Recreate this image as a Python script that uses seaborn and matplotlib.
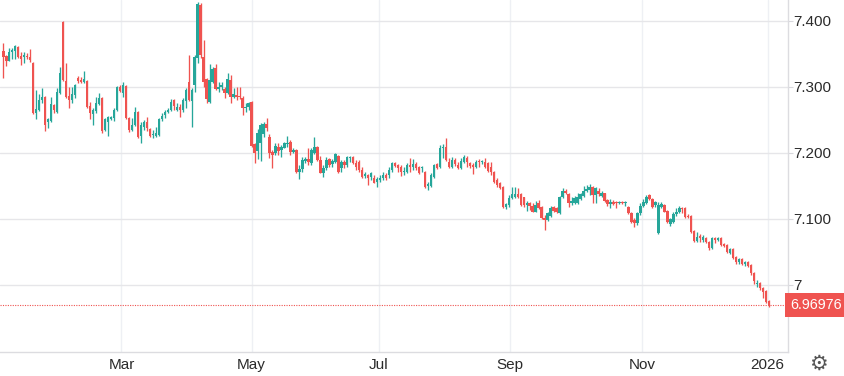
import numpy as np
import matplotlib
matplotlib.use("Agg")
import matplotlib.pyplot as plt
import matplotlib.transforms as mtransforms
import seaborn as sns
import pandas as pd

# ---------------- data (daily OHLC) ----------------
opens = [
    7.354, 7.347, 7.340, 7.353, 7.354, 7.360, 7.347, 7.345, 7.347, 7.345,
    7.337, 7.261, 7.265, 7.280, 7.285, 7.247, 7.248, 7.272, 7.262, 7.291,
    7.398, 7.309, 7.286, 7.280, 7.288, 7.314, 7.311, 7.308, 7.309, 7.271,
    7.259, 7.264, 7.274, 7.283, 7.235, 7.247, 7.251, 7.253, 7.265, 7.300,
    7.291, 7.302, 7.253, 7.235, 7.242, 7.262, 7.226, 7.239, 7.247, 7.236,
    7.227, 7.226, 7.227, 7.251, 7.258, 7.262, 7.265, 7.280, 7.265, 7.270,
    7.265, 7.279, 7.308, 7.279, 7.303, 7.344, 7.424, 7.345, 7.312, 7.277,
    7.308, 7.329, 7.297, 7.300, 7.297, 7.291, 7.311, 7.285, 7.288, 7.286,
    7.283, 7.268, 7.270, 7.277, 7.214, 7.203, 7.215, 7.229, 7.244, 7.224,
    7.202, 7.200, 7.209, 7.205, 7.208, 7.214, 7.217, 7.202, 7.205, 7.171,
    7.176, 7.188, 7.191, 7.185, 7.200, 7.209, 7.189, 7.170, 7.177, 7.191,
    7.183, 7.186, 7.196, 7.177, 7.186, 7.182, 7.192, 7.194, 7.185, 7.186,
    7.174, 7.165, 7.167, 7.164, 7.162, 7.156, 7.159, 7.162, 7.167, 7.167,
    7.174, 7.185, 7.182, 7.179, 7.171, 7.171, 7.182, 7.179, 7.183, 7.179,
    7.177, 7.171, 7.150, 7.150, 7.164, 7.183, 7.179, 7.208, 7.209, 7.186,
    7.179, 7.189, 7.182, 7.177, 7.186, 7.192, 7.185, 7.182, 7.179, 7.188,
    7.186, 7.186, 7.185, 7.179, 7.171, 7.159, 7.155, 7.149, 7.118, 7.121,
    7.132, 7.133, 7.138, 7.138, 7.133, 7.121, 7.124, 7.120, 7.111, 7.124,
    7.118, 7.102, 7.098, 7.105, 7.118, 7.117, 7.109, 7.133, 7.142, 7.138,
    7.124, 7.124, 7.124, 7.130, 7.135, 7.142, 7.144, 7.149, 7.136, 7.142,
    7.135, 7.139, 7.129, 7.123, 7.126, 7.126, 7.124, 7.126, 7.124, 7.118,
    7.109, 7.098, 7.094, 7.109, 7.120, 7.124, 7.136, 7.130, 7.121, 7.079,
    7.118, 7.121, 7.112, 7.093, 7.095, 7.108, 7.111, 7.117, 7.117, 7.105,
    7.105, 7.082, 7.067, 7.074, 7.068, 7.071, 7.065, 7.056, 7.071, 7.068,
    7.071, 7.062, 7.061, 7.048, 7.055, 7.042, 7.035, 7.039, 7.032, 7.035,
    7.030, 7.018, 7.002, 7.003, 6.995, 6.991, 6.976,
]
highs = [
    7.367, 7.348, 7.359, 7.359, 7.363, 7.362, 7.353, 7.353, 7.351, 7.357,
    7.338, 7.295, 7.289, 7.299, 7.286, 7.253, 7.285, 7.274, 7.299, 7.330,
    7.400, 7.337, 7.300, 7.300, 7.304, 7.317, 7.315, 7.324, 7.311, 7.277,
    7.268, 7.285, 7.291, 7.285, 7.253, 7.256, 7.256, 7.268, 7.302, 7.303,
    7.308, 7.303, 7.255, 7.253, 7.270, 7.264, 7.247, 7.250, 7.255, 7.238,
    7.235, 7.239, 7.253, 7.261, 7.265, 7.268, 7.282, 7.282, 7.276, 7.274,
    7.283, 7.299, 7.349, 7.299, 7.349, 7.429, 7.427, 7.371, 7.314, 7.335,
    7.330, 7.335, 7.308, 7.308, 7.300, 7.321, 7.318, 7.299, 7.300, 7.300,
    7.286, 7.276, 7.277, 7.279, 7.215, 7.236, 7.245, 7.247, 7.253, 7.229,
    7.205, 7.215, 7.215, 7.212, 7.217, 7.226, 7.220, 7.208, 7.206, 7.182,
    7.194, 7.194, 7.208, 7.208, 7.224, 7.210, 7.196, 7.182, 7.194, 7.192,
    7.191, 7.200, 7.197, 7.189, 7.189, 7.196, 7.196, 7.195, 7.189, 7.189,
    7.179, 7.171, 7.168, 7.171, 7.167, 7.164, 7.167, 7.171, 7.170, 7.179,
    7.186, 7.187, 7.183, 7.182, 7.179, 7.185, 7.192, 7.191, 7.186, 7.180,
    7.180, 7.172, 7.156, 7.170, 7.183, 7.185, 7.212, 7.214, 7.223, 7.192,
    7.194, 7.192, 7.186, 7.192, 7.197, 7.196, 7.186, 7.185, 7.189, 7.191,
    7.189, 7.192, 7.186, 7.186, 7.173, 7.162, 7.156, 7.150, 7.124, 7.136,
    7.148, 7.148, 7.147, 7.139, 7.134, 7.127, 7.126, 7.124, 7.127, 7.129,
    7.119, 7.106, 7.110, 7.120, 7.120, 7.118, 7.135, 7.147, 7.145, 7.139,
    7.133, 7.135, 7.139, 7.139, 7.150, 7.152, 7.153, 7.150, 7.149, 7.147,
    7.142, 7.140, 7.130, 7.130, 7.129, 7.127, 7.127, 7.127, 7.127, 7.119,
    7.110, 7.102, 7.111, 7.124, 7.130, 7.136, 7.138, 7.132, 7.127, 7.126,
    7.126, 7.123, 7.114, 7.102, 7.111, 7.117, 7.120, 7.118, 7.118, 7.108,
    7.106, 7.083, 7.080, 7.077, 7.076, 7.073, 7.067, 7.073, 7.073, 7.073,
    7.072, 7.064, 7.062, 7.056, 7.056, 7.044, 7.041, 7.041, 7.036, 7.036,
    7.032, 7.020, 7.008, 7.005, 6.997, 6.992, 6.977,
]
lows = [
    7.314, 7.332, 7.340, 7.342, 7.342, 7.344, 7.333, 7.336, 7.342, 7.338,
    7.259, 7.251, 7.264, 7.276, 7.233, 7.238, 7.247, 7.261, 7.261, 7.290,
    7.309, 7.284, 7.268, 7.276, 7.283, 7.306, 7.306, 7.306, 7.268, 7.251,
    7.242, 7.261, 7.273, 7.230, 7.233, 7.226, 7.250, 7.248, 7.264, 7.292,
    7.285, 7.251, 7.232, 7.233, 7.241, 7.223, 7.215, 7.235, 7.233, 7.224,
    7.223, 7.224, 7.226, 7.248, 7.253, 7.261, 7.264, 7.265, 7.264, 7.255,
    7.262, 7.268, 7.279, 7.239, 7.292, 7.337, 7.344, 7.300, 7.276, 7.276,
    7.306, 7.295, 7.292, 7.295, 7.283, 7.290, 7.276, 7.284, 7.280, 7.282,
    7.258, 7.262, 7.265, 7.209, 7.185, 7.191, 7.188, 7.224, 7.233, 7.192,
    7.177, 7.197, 7.197, 7.194, 7.207, 7.209, 7.197, 7.200, 7.170, 7.161,
    7.171, 7.185, 7.182, 7.182, 7.199, 7.188, 7.169, 7.164, 7.174, 7.179,
    7.179, 7.185, 7.170, 7.171, 7.177, 7.179, 7.186, 7.183, 7.174, 7.171,
    7.162, 7.162, 7.152, 7.159, 7.154, 7.149, 7.156, 7.159, 7.159, 7.162,
    7.171, 7.179, 7.171, 7.165, 7.167, 7.170, 7.171, 7.174, 7.174, 7.168,
    7.171, 7.147, 7.144, 7.149, 7.162, 7.176, 7.177, 7.192, 7.188, 7.177,
    7.177, 7.180, 7.176, 7.176, 7.185, 7.179, 7.177, 7.168, 7.177, 7.179,
    7.183, 7.177, 7.171, 7.167, 7.155, 7.149, 7.146, 7.117, 7.115, 7.118,
    7.130, 7.132, 7.132, 7.120, 7.118, 7.112, 7.114, 7.110, 7.110, 7.115,
    7.100, 7.083, 7.097, 7.103, 7.111, 7.109, 7.108, 7.132, 7.138, 7.118,
    7.121, 7.123, 7.123, 7.129, 7.133, 7.141, 7.136, 7.124, 7.124, 7.135,
    7.133, 7.126, 7.120, 7.117, 7.121, 7.117, 7.123, 7.123, 7.120, 7.108,
    7.094, 7.088, 7.091, 7.106, 7.118, 7.123, 7.129, 7.117, 7.118, 7.078,
    7.117, 7.110, 7.094, 7.090, 7.094, 7.105, 7.109, 7.109, 7.102, 7.102,
    7.079, 7.065, 7.065, 7.065, 7.065, 7.064, 7.053, 7.055, 7.064, 7.067,
    7.059, 7.058, 7.048, 7.047, 7.040, 7.032, 7.032, 7.030, 7.029, 7.028,
    7.015, 7.002, 6.997, 6.992, 6.980, 6.973, 6.966,
]
closes = [
    7.345, 7.340, 7.353, 7.356, 7.362, 7.345, 7.342, 7.348, 7.345, 7.341,
    7.261, 7.266, 7.280, 7.285, 7.242, 7.251, 7.274, 7.265, 7.292, 7.321,
    7.311, 7.285, 7.280, 7.289, 7.303, 7.309, 7.308, 7.312, 7.270, 7.261,
    7.265, 7.276, 7.283, 7.233, 7.251, 7.255, 7.254, 7.265, 7.300, 7.294,
    7.303, 7.253, 7.235, 7.242, 7.262, 7.224, 7.242, 7.247, 7.238, 7.226,
    7.229, 7.230, 7.251, 7.256, 7.262, 7.265, 7.277, 7.271, 7.270, 7.265,
    7.280, 7.295, 7.280, 7.295, 7.345, 7.426, 7.348, 7.308, 7.282, 7.311,
    7.327, 7.297, 7.300, 7.303, 7.291, 7.312, 7.285, 7.289, 7.285, 7.285,
    7.268, 7.270, 7.276, 7.211, 7.200, 7.230, 7.242, 7.244, 7.238, 7.200,
    7.197, 7.211, 7.203, 7.209, 7.215, 7.215, 7.202, 7.205, 7.171, 7.176,
    7.189, 7.191, 7.186, 7.205, 7.209, 7.189, 7.170, 7.177, 7.189, 7.182,
    7.188, 7.199, 7.171, 7.186, 7.182, 7.194, 7.194, 7.185, 7.179, 7.174,
    7.164, 7.168, 7.162, 7.170, 7.155, 7.161, 7.162, 7.167, 7.162, 7.174,
    7.185, 7.180, 7.177, 7.171, 7.173, 7.182, 7.179, 7.183, 7.177, 7.170,
    7.179, 7.149, 7.153, 7.167, 7.182, 7.177, 7.208, 7.209, 7.189, 7.179,
    7.189, 7.183, 7.177, 7.188, 7.194, 7.186, 7.180, 7.179, 7.186, 7.186,
    7.188, 7.179, 7.173, 7.171, 7.156, 7.152, 7.147, 7.118, 7.123, 7.132,
    7.138, 7.138, 7.133, 7.121, 7.121, 7.124, 7.120, 7.111, 7.121, 7.117,
    7.102, 7.098, 7.109, 7.117, 7.112, 7.111, 7.133, 7.142, 7.139, 7.124,
    7.127, 7.132, 7.133, 7.138, 7.142, 7.145, 7.149, 7.136, 7.147, 7.138,
    7.139, 7.127, 7.123, 7.126, 7.123, 7.124, 7.126, 7.124, 7.125, 7.109,
    7.095, 7.094, 7.109, 7.120, 7.126, 7.133, 7.130, 7.118, 7.126, 7.121,
    7.123, 7.111, 7.095, 7.100, 7.108, 7.111, 7.117, 7.115, 7.103, 7.103,
    7.080, 7.067, 7.073, 7.071, 7.073, 7.065, 7.056, 7.071, 7.068, 7.071,
    7.061, 7.059, 7.050, 7.055, 7.041, 7.035, 7.039, 7.032, 7.035, 7.029,
    7.018, 7.006, 7.003, 6.995, 6.989, 6.974, 6.96976,
]

month_labels = ["Mar", "May", "Jul", "Sep", "Nov", "2026"]
y_tick_values = [7.0, 7.1, 7.2, 7.3, 7.4]
y_tick_labels = ["7", "7.100", "7.200", "7.300", "7.400"]

# ---------------- layout / style ----------------
month_tick_pos = [39.5, 83, 125.5, 169.5, 213.5, 255.5]   # bar index of month starts
UP, DOWN = "#26a69a", "#ef5350"
TXT = "#2b2b2b"

sns.set_theme(style="white")
plt.rcParams["font.family"] = ["Liberation Sans", "DejaVu Sans"]

df = pd.DataFrame({"open": opens, "high": highs, "low": lows, "close": closes})
df["idx"] = np.arange(len(df))
df["color"] = np.where(df["close"] >= df["open"], UP, DOWN)

fig = plt.figure(figsize=(8.45, 3.76), dpi=100)
ax = fig.add_axes([0, 0.063, 0.9322, 0.937])

# wicks
wick_lo = np.minimum(df["low"], np.minimum(df["open"], df["close"]))
wick_hi = np.maximum(df["high"], np.maximum(df["open"], df["close"]))
ax.vlines(df["idx"], wick_lo, wick_hi, colors=df["color"], linewidth=0.95, zorder=3)
# bodies
body_bottom = np.minimum(df["open"], df["close"])
body_height = np.maximum((df["close"] - df["open"]).abs(), 0.0014)
ax.bar(df["idx"], body_height, bottom=body_bottom, width=0.82,
       color=df["color"], linewidth=0, zorder=4)

# limits
ax.set_xlim(-1.1, 262.25)
ax.set_ylim(6.898, 7.4318)

# grid
ax.set_axisbelow(True)
ax.set_xticks(month_tick_pos)
ax.set_xticklabels(month_labels)
ax.set_yticks(y_tick_values)
ax.set_yticklabels(y_tick_labels)
ax.xaxis.grid(True, color="#eef0f4", linewidth=1.0)
ax.yaxis.grid(True, color="#e6e6e9", linewidth=1.0)

ax.yaxis.tick_right()
ax.tick_params(axis="y", which="both", length=3.3, width=0.8, color="#d8d8dc",
               pad=1.0, labelsize=11, labelcolor=TXT, right=True, left=False)
ax.tick_params(axis="x", which="both", length=0, pad=4.2, labelsize=11, labelcolor=TXT)

for side in ["top", "left"]:
    ax.spines[side].set_visible(False)
for side in ["right", "bottom"]:
    ax.spines[side].set_color("#dcdce0")
    ax.spines[side].set_linewidth(1.0)

# last price dotted line + label
last = df["close"].iloc[-1]
ax.axhline(last, color=DOWN, linestyle=(0, (1, 1.2)), linewidth=0.8, zorder=2)
trans = mtransforms.blended_transform_factory(ax.transAxes, ax.transData)
ax.text(1.0032, last, f"{last:.5f}", transform=trans, ha="left", va="center",
        fontsize=10.3, color="white", clip_on=False, zorder=10,
        bbox=dict(boxstyle="square,pad=0.38", fc=DOWN, ec="none"))

# settings gear
fig.text(818 / 845, 1 - 364 / 376, "\u2699", ha="center", va="center",
         fontsize=15, color="#555555", family=["DejaVu Sans"])

fig.savefig("out.png", dpi=100)
